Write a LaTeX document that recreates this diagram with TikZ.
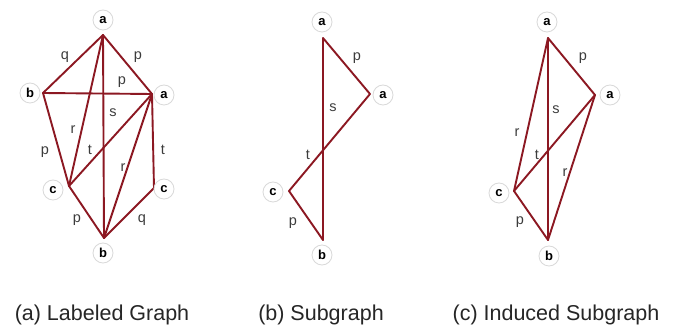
\documentclass[tikz,border=0pt]{standalone}
\usepackage{fontspec}
\setmainfont{Liberation Sans}
\definecolor{edgered}{RGB}{140,24,34}
\definecolor{labgray}{RGB}{60,60,60}
\begin{document}
\begin{tikzpicture}[x=1pt,y=-1pt,
  vlabel/.style={circle,draw=gray!30,line width=0.8pt,fill=white,minimum size=20pt,inner sep=0pt,font=\fontsize{13}{13}\selectfont\bfseries},
  elabel/.style={inner sep=0pt,text=labgray,font=\fontsize{14.5}{14.5}\selectfont},
  gedge/.style={draw=edgered,line width=1.9pt,line cap=round,line join=round},
  caption/.style={inner sep=0pt,text=black!85,font=\fontsize{21.5}{24}\selectfont}]
\useasboundingbox (0,0) rectangle (673,331);
\fill[white] (0,0) rectangle (673,331);

% ---------- (a) Labeled Graph ----------
\coordinate (a1) at (103,35);
\coordinate (b1) at (43,93);
\coordinate (a2) at (152,94);
\coordinate (c1) at (69,186);
\coordinate (c2) at (154,188);
\coordinate (b2) at (104,238);
\draw[gedge] (a1) -- (b1);
\draw[gedge] (a1) -- (a2);
\draw[gedge] (b1) -- (a2);
\draw[gedge] (a1) -- (b2);
\draw[gedge] (a1) -- (c1);
\draw[gedge] (b1) -- (c1);
\draw[gedge] (c1) -- (a2);
\draw[gedge] (a2) -- (b2);
\draw[gedge] (a2) -- (c2);
\draw[gedge] (c2) -- (b2);
\draw[gedge] (c1) -- (b2);
\node[vlabel] (a1l) at (103,20) {a};
\node[vlabel] (b1l) at (30,93) {b};
\node[vlabel] (a2l) at (164,95) {a};
\node[vlabel] (c1l) at (53,190) {c};
\node[vlabel] (c2l) at (164,189) {c};
\node[vlabel] (b2l) at (103,253) {b};
\node[elabel] (la1) at (65,57) {q};
\node[elabel] (la2) at (138,57) {p};
\node[elabel] (la3) at (122,82) {p};
\node[elabel] (la4) at (113,113) {s};
\node[elabel] (la5) at (73,130) {r};
\node[elabel] (la6) at (45,152) {p};
\node[elabel] (la7) at (90,150) {t};
\node[elabel] (la8) at (123,168) {r};
\node[elabel] (la9) at (163,150) {t};
\node[elabel] (la10) at (142,220) {q};
\node[elabel] (la11) at (77,220) {p};

% ---------- (b) Subgraph ----------
\coordinate (ba1) at (323,38);
\coordinate (ba2) at (370,94);
\coordinate (bc1) at (289,191);
\coordinate (bb2) at (323,240);
\draw[gedge] (ba1) -- (ba2);
\draw[gedge] (ba1) -- (bb2);
\draw[gedge] (ba2) -- (bc1);
\draw[gedge] (bc1) -- (bb2);
\node[vlabel] (ba1l) at (322,22) {a};
\node[vlabel] (ba2l) at (383,95) {a};
\node[vlabel] (bc1l) at (273,192) {c};
\node[vlabel] (bb2l) at (322,255) {b};
\node[elabel] (lb1) at (357,58) {p};
\node[elabel] (lb2) at (333,108) {s};
\node[elabel] (lb3) at (308,155) {t};
\node[elabel] (lb4) at (293,223) {p};

% ---------- (c) Induced Subgraph ----------
\coordinate (ca1) at (548,38);
\coordinate (ca2) at (595,95);
\coordinate (cc1) at (514,191);
\coordinate (cb2) at (548,240);
\draw[gedge] (ca1) -- (ca2);
\draw[gedge] (ca1) -- (cc1);
\draw[gedge] (ca1) -- (cb2);
\draw[gedge] (cc1) -- (ca2);
\draw[gedge] (ca2) -- (cb2);
\draw[gedge] (cc1) -- (cb2);
\node[vlabel] (ca1l) at (547,22) {a};
\node[vlabel] (ca2l) at (610,95) {a};
\node[vlabel] (cc1l) at (499,193) {c};
\node[vlabel] (cb2l) at (549,256) {b};
\node[elabel] (lc1) at (583,58) {p};
\node[elabel] (lc2) at (517,133) {r};
\node[elabel] (lc3) at (556,110) {s};
\node[elabel] (lc4) at (537,155) {t};
\node[elabel] (lc5) at (565,173) {r};
\node[elabel] (lc6) at (520,222) {p};

% ---------- captions ----------
\node[caption] (capa) at (102,315) {(a) Labeled Graph};
\node[caption] (capb) at (321,315) {(b) Subgraph};
\node[caption] (capc) at (556,315) {(c) Induced Subgraph};
\end{tikzpicture}
\end{document}
